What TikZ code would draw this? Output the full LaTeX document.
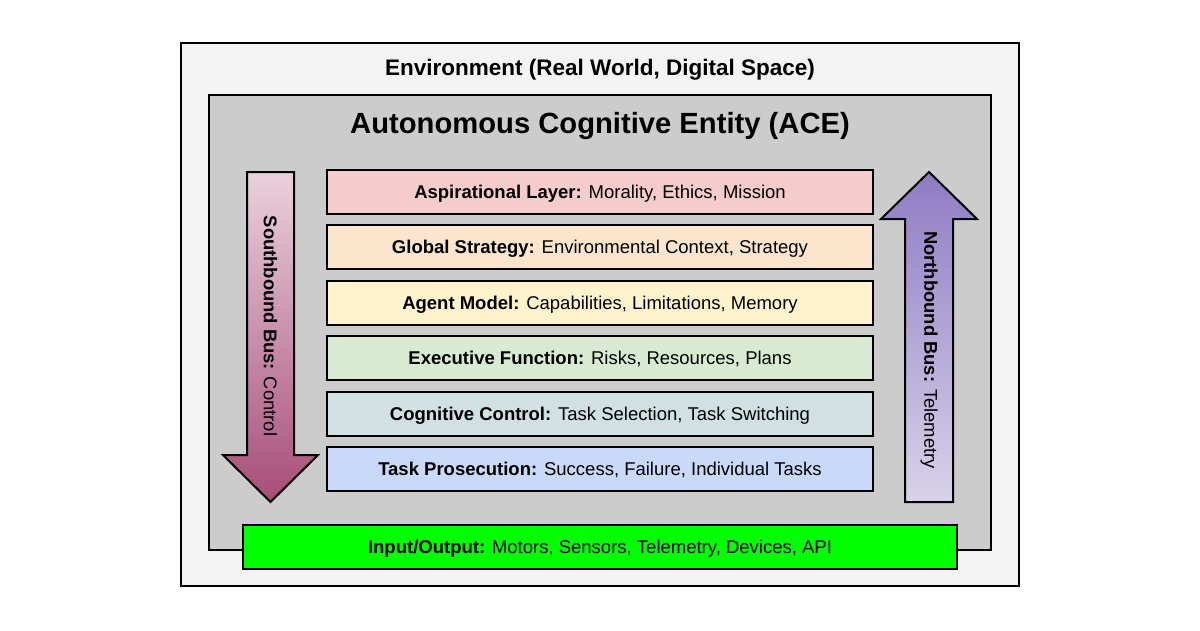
\documentclass[tikz,border=0pt]{standalone}
\usepackage{fontspec}
\setmainfont{Liberation Sans}
\usepackage{xcolor}
\usepackage{tikz}
\usetikzlibrary{positioning}

\definecolor{envgray}{HTML}{F3F3F3}
\definecolor{acegray}{HTML}{CCCCCC}
\definecolor{aspcol}{HTML}{F4CCCC}
\definecolor{glbcol}{HTML}{FCE5CD}
\definecolor{agtcol}{HTML}{FFF2CC}
\definecolor{execol}{HTML}{D9EAD3}
\definecolor{cogcol}{HTML}{D0E0E3}
\definecolor{tskcol}{HTML}{C9DAF8}
\definecolor{iocol}{HTML}{00FF00}
\definecolor{southtop}{HTML}{EAD1DC}
\definecolor{southbot}{HTML}{A64D79}
\definecolor{northtop}{HTML}{8E7CC3}
\definecolor{northbot}{HTML}{D9D2E9}

\tikzset{
    layer/.style={draw, line width=2pt, minimum width=546pt, minimum height=44pt,
        inner sep=0pt, text height=13pt, text depth=0pt, font=\fontsize{18.5}{22}\selectfont},
    busarrow/.style={draw, line width=2pt, line join=miter},
    buslabel/.style={rotate=-90, font=\fontsize{18.4}{22}\selectfont}
}

\begin{document}
\begin{tikzpicture}[x=1pt, y=-1pt]
    \useasboundingbox (0,0) rectangle (1200,630);

    % Environment frame
    \draw[line width=2pt, fill=envgray] (181,43) rectangle (1019,586);
    \node[font=\bfseries\fontsize{22.5}{26}\selectfont] (envtitle) at (600,69.5)
        {Environment (Real World, Digital Space)};

    % ACE frame
    \draw[line width=2pt, fill=acegray] (209,95) rectangle (991,550);
    \node[font=\bfseries\fontsize{29.2}{34}\selectfont] (acetitle) at (600,126.5)
        {Autonomous Cognitive Entity (ACE)};

    % Layers, top to bottom
    \node[layer, fill=aspcol] (asp) at (600,191.5) {\textbf{Aspirational Layer:} Morality, Ethics, Mission};
    \node[layer, fill=glbcol] (glb) at (600,246.5) {\textbf{Global Strategy:} Environmental Context, Strategy};
    \node[layer, fill=agtcol] (agt) at (600,302.5) {\textbf{Agent Model:} Capabilities, Limitations, Memory};
    \node[layer, fill=execol] (exe) at (600,357.5) {\textbf{Executive Function:} Risks, Resources, Plans};
    \node[layer, fill=cogcol] (cog) at (600,413.5) {\textbf{Cognitive Control:} Task Selection, Task Switching};
    \node[layer, fill=tskcol] (tsk) at (600,469) {\textbf{Task Prosecution:} Success, Failure, Individual Tasks};

    % Input/Output bar
    \node[layer, fill=iocol, minimum width=714pt] (io) at (600,547)
        {\textbf{Input/Output:} Motors, Sensors, Telemetry, Devices, API};

    % Southbound bus
    \shade[top color=southtop, bottom color=southbot]
        (247,172) -- (294,172) -- (294,455) -- (318,455) -- (270.5,502)
        -- (223,455) -- (247,455) -- cycle;
    \draw[busarrow]
        (247,172) -- (294,172) -- (294,455) -- (318,455) -- (270.5,502)
        -- (223,455) -- (247,455) -- cycle;
    \node[buslabel] (south) at (270.5,326) {\textbf{Southbound Bus:} Control};

    % Northbound bus
    \shade[top color=northtop, bottom color=northbot]
        (905,502) -- (953,502) -- (953,219) -- (977,219) -- (929,172)
        -- (881,219) -- (905,219) -- cycle;
    \draw[busarrow]
        (905,502) -- (953,502) -- (953,219) -- (977,219) -- (929,172)
        -- (881,219) -- (905,219) -- cycle;
    \node[buslabel] (north) at (929,350) {\textbf{Northbound Bus:} Telemetry};
\end{tikzpicture}
\end{document}
